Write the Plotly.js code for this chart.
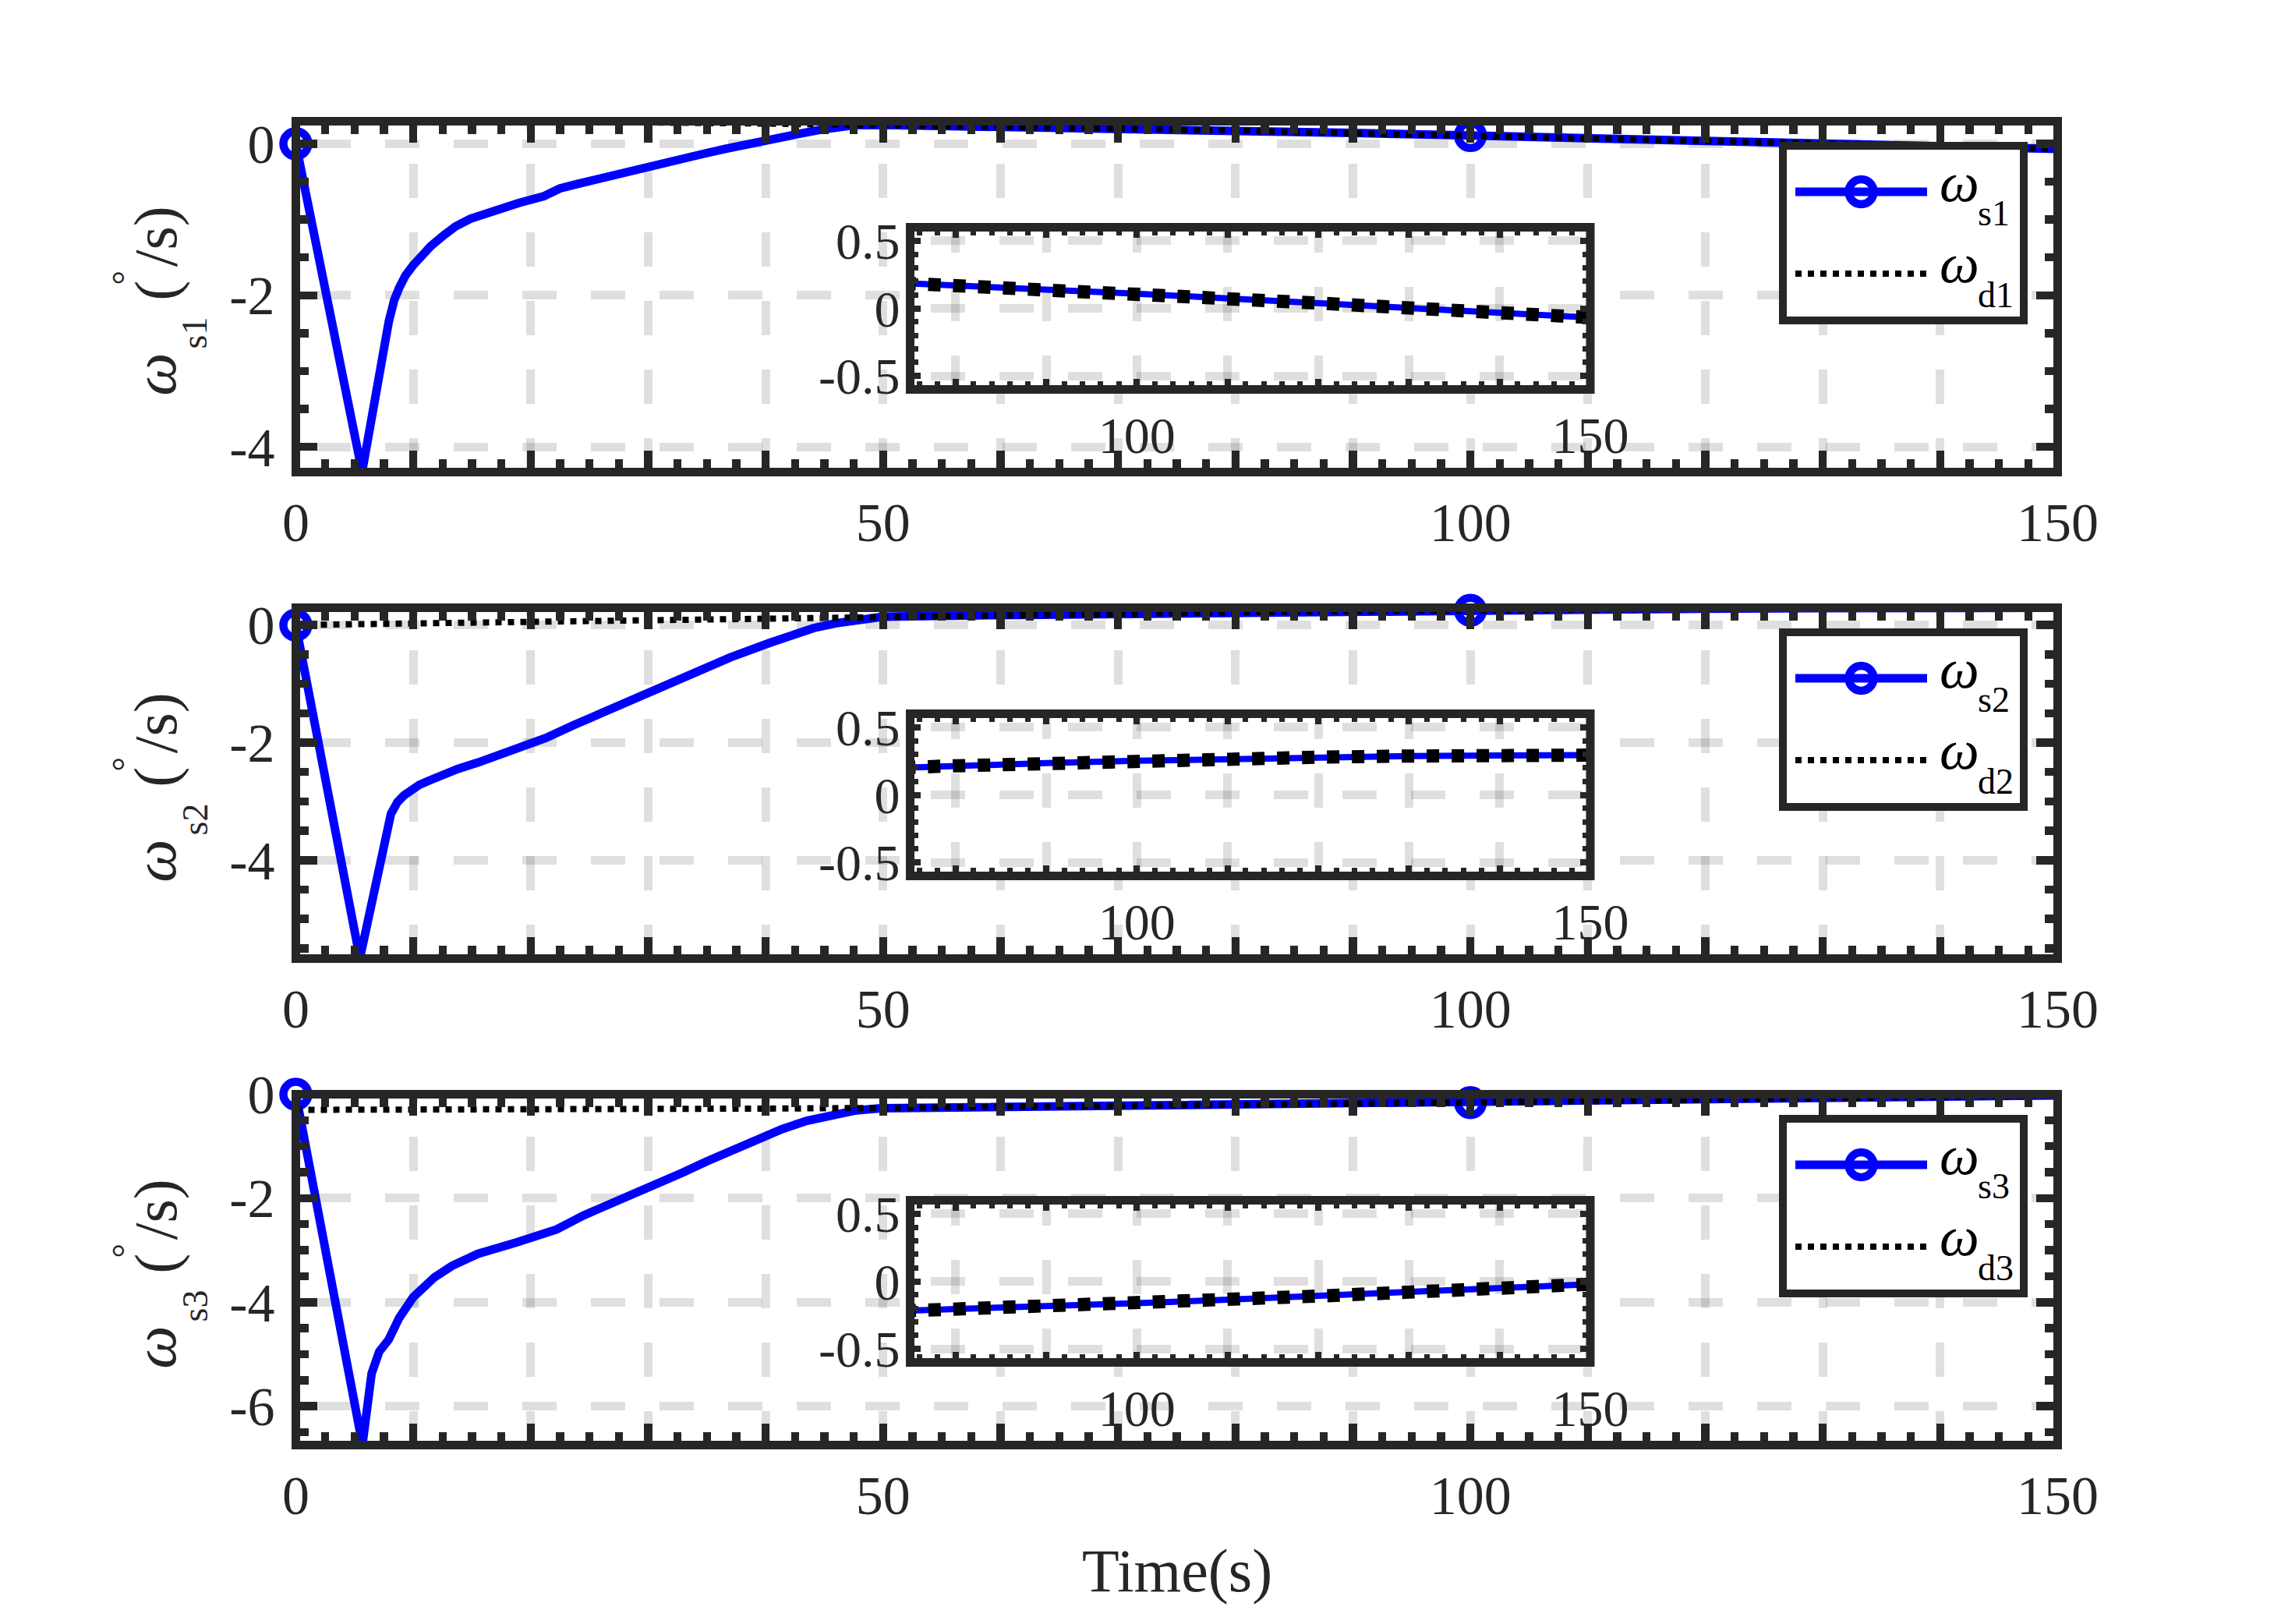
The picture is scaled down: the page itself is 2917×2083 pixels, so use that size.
<!DOCTYPE html>
<html><head><meta charset="utf-8">
<script src="https://cdn.plot.ly/plotly-3.0.1.min.js"></script>
<style>html,body{margin:0;padding:0;background:#fff}</style>
</head><body>
<div id="chart" style="width:2917px;height:2083px"></div>
<script>
// ---------------- data ----------------
const tS1 = [0, 5.64, 7.92, 8.1, 8.38, 8.8, 9.33, 10.0, 10.67, 11.5, 12.57, 13.6, 14.86, 16.0, 17.14, 19.0, 21.14, 22.48, 24.0, 26.29, 28.0, 30.1, 32.0, 34.5, 36.5, 38.5, 40.5, 42.5, 44.5, 46.0, 47.5, 50, 60, 70, 80, 90, 100, 110, 120, 130, 140, 150];
const wS1 = [0, -4.33, -2.34, -2.22, -2.06, -1.90, -1.74, -1.60, -1.47, -1.35, -1.21, -1.09, -0.99, -0.93, -0.87, -0.78, -0.69, -0.59, -0.53, -0.44, -0.38, -0.30, -0.23, -0.14, -0.07, 0.00, 0.06, 0.12, 0.18, 0.22, 0.245, 0.248, 0.226, 0.200, 0.172, 0.142, 0.108, 0.074, 0.039, 0.003, -0.034, -0.068];

const tS2 = [0, 5.45, 8.1, 8.4, 8.66, 9.2, 9.77, 10.5, 11.3, 12.5, 13.75, 15.5, 17.1, 19.3, 21.3, 23.7, 26.0, 28.1, 31.4, 34.2, 37.0, 40.4, 42.5, 44.1, 46.0, 48.0, 50.0, 60, 70, 80, 90, 100, 110, 120, 130, 140, 150];
const wS2 = [0, -5.67, -3.21, -3.10, -3.01, -2.90, -2.81, -2.72, -2.65, -2.55, -2.45, -2.34, -2.23, -2.08, -1.92, -1.70, -1.50, -1.30, -1.02, -0.79, -0.55, -0.30, -0.16, -0.05, 0.03, 0.10, 0.142, 0.169, 0.193, 0.215, 0.235, 0.252, 0.267, 0.279, 0.287, 0.292, 0.294];

const tS3 = [0, 5.67, 6.45, 7.1, 7.9, 8.8, 10.0, 11.8, 13.3, 15.5, 18.8, 20.3, 22.2, 24.5, 26.5, 28.7, 30.8, 32.9, 35.0, 37.1, 39.2, 41.4, 43.5, 45.6, 47.7, 49.8, 60, 70, 80, 90, 100, 110, 120, 130, 140, 150];
const wS3 = [0, -6.74, -5.37, -4.95, -4.72, -4.30, -3.90, -3.52, -3.30, -3.07, -2.85, -2.74, -2.60, -2.33, -2.14, -1.94, -1.72, -1.51, -1.29, -1.08, -0.87, -0.67, -0.51, -0.39, -0.31, -0.27, -0.248, -0.229, -0.209, -0.186, -0.162, -0.136, -0.109, -0.080, -0.051, -0.021];

const tD = [0, 10, 20, 30, 40, 50, 60, 70, 80, 90, 100, 110, 120, 130, 140, 150];
const wD1 = [0.297, 0.295, 0.290, 0.280, 0.266, 0.248, 0.226, 0.200, 0.172, 0.142, 0.108, 0.074, 0.039, 0.003, -0.034, -0.068];
const wD2 = [0.0, 0.030, 0.060, 0.089, 0.117, 0.144, 0.169, 0.193, 0.215, 0.235, 0.252, 0.267, 0.279, 0.287, 0.292, 0.294];
const wD3 = [-0.300, -0.299, -0.294, -0.287, -0.276, -0.263, -0.248, -0.229, -0.209, -0.186, -0.162, -0.136, -0.109, -0.080, -0.051, -0.021];

const markerTimes = [0, 100];

const mainXTickVals = [0, 10, 20, 30, 40, 50, 60, 70, 80, 90, 100, 110, 120, 130, 140, 150];
const mainXTickText = ['0', '', '', '', '', '50', '', '', '', '', '100', '', '', '', '', '150'];
const insetXTickVals = [80, 90, 100, 110, 120, 130, 140, 150];
const insetXTickText = ['', '', '100', '', '', '', '', '150'];
const yTickVals1 = [-4, -2, 0];       const yTickText1 = ['-4', '-2', '0'];
const yTickVals2 = [-4, -2, 0];       const yTickText2 = ['-4', '-2', '0'];
const yTickVals3 = [-6, -4, -2, 0];   const yTickText3 = ['-6', '-4', '-2', '0'];
const insetYTickVals = [-0.5, 0, 0.5]; const insetYTickText = ['-0.5', '0', '0.5'];

const sNames = ['s1', 's2', 's3'];
const dNames = ['d1', 'd2', 'd3'];
const xLabel = 'Time(s)';

// ---------------- layout helpers ----------------
const W = 2917, H = 2083;
const X = v => v / W;
const Y = v => 1 - v / H;
const AX = '#262626';
const FONT = 'Liberation Serif';
const GRID = 'rgba(38,38,38,0.15)';
const BLUE = '#0000ff';

const tS = [tS1, tS2, tS3], wS = [wS1, wS2, wS3], wD = [wD1, wD2, wD3];
const yTV = [yTickVals1, yTickVals2, yTickVals3], yTT = [yTickText1, yTickText2, yTickText3];
const yRanges = [[-4.332, 0.297], [-5.674, 0.294], [-6.747, 0]];

const mainL = 379.5, mainR = 2639.5, subH = 450;
const subTop = [155.5, 779.5, 1403.5];
const insL = 1167.5, insR = 2040, insH = 208;
const insTop = [291.5, 915.5, 1539.5];
const dyOff = [0, 624, 1248];

const data = [];
const layout = {
  width: W, height: H,
  margin: {l: 0, r: 0, t: 0, b: 0},
  paper_bgcolor: '#ffffff', plot_bgcolor: '#ffffff',
  showlegend: false,
  shapes: [], annotations: []
};

function tickCommon(size) {
  return {
    ticks: 'inside', tickcolor: AX, mirror: 'allticks',
    showline: false, linewidth: 0, zeroline: false,
    tickfont: {family: FONT, size: size, color: AX},
    fixedrange: true
  };
}

for (let k = 0; k < 3; k++) {
  const mxId = k === 0 ? 'x' : 'x' + (k + 1);
  const myId = k === 0 ? 'y' : 'y' + (k + 1);
  const ixId = 'x' + (k + 4), iyId = 'y' + (k + 4);
  const mxKey = k === 0 ? 'xaxis' : 'xaxis' + (k + 1);
  const myKey = k === 0 ? 'yaxis' : 'yaxis' + (k + 1);
  const ixKey = 'xaxis' + (k + 4), iyKey = 'yaxis' + (k + 4);
  const top = subTop[k], itop = insTop[k], dy = dyOff[k];

  // main traces
  data.push({
    x: tS[k], y: wS[k], xaxis: mxId, yaxis: myId, type: 'scatter',
    mode: 'lines+markers', name: 'ω' + sNames[k],
    line: {color: BLUE, width: 11},
    marker: {symbol: 'circle-open', size: 32, color: BLUE, line: {width: 10.5, color: BLUE},
             opacity: tS[k].map(t => markerTimes.includes(t) ? 1 : 0)},
    cliponaxis: false, hoverinfo: 'skip'
  });
  data.push({
    x: tD, y: wD[k], xaxis: mxId, yaxis: myId, type: 'scatter',
    mode: 'lines', name: 'ω' + dNames[k],
    line: {color: '#000000', width: 8, dash: '8px,8px'}, hoverinfo: 'skip'
  });
  // inset traces
  data.push({
    x: tS[k], y: wS[k], xaxis: ixId, yaxis: iyId, type: 'scatter',
    mode: 'lines', line: {color: BLUE, width: 8}, hoverinfo: 'skip'
  });
  data.push({
    x: tD, y: wD[k], xaxis: ixId, yaxis: iyId, type: 'scatter',
    mode: 'lines', line: {color: '#000000', width: 17, dash: '16px,16px'}, hoverinfo: 'skip'
  });

  // main axes
  layout[mxKey] = Object.assign(tickCommon(70), {
    domain: [X(mainL), X(mainR)], range: [0, 150], anchor: myId,
    tickmode: 'array', tickvals: mainXTickVals, ticktext: mainXTickText,
    ticklen: 27.5, tickwidth: 10.5, ticklabelstandoff: 17,
    showgrid: true, gridcolor: GRID, gridwidth: 11, griddash: '10px,44px,34px,0px',
    minor: {ticks: 'inside', tickmode: 'linear', tick0: 0, dtick: 2.5, ticklen: 16.5, tickwidth: 10.5, tickcolor: AX, showgrid: false}
  });
  layout[myKey] = Object.assign(tickCommon(70), {
    domain: [Y(top + subH), Y(top)], range: yRanges[k], anchor: mxId,
    tickmode: 'array', tickvals: yTV[k], ticktext: yTT[k],
    ticklen: 27.5, tickwidth: 10.5, ticklabelstandoff: 26,
    showgrid: true, gridcolor: GRID, gridwidth: 11, griddash: '0px,26px,44px,18px',
    minor: {ticks: 'inside', tickmode: 'linear', tick0: 0, dtick: 0.5, ticklen: 16.5, tickwidth: 10.5, tickcolor: AX, showgrid: false}
  });
  // inset axes
  layout[ixKey] = Object.assign(tickCommon(66), {
    domain: [X(insL), X(insR)], range: [75, 150], anchor: iyId,
    tickmode: 'array', tickvals: insetXTickVals, ticktext: insetXTickText,
    ticklen: 13.5, tickwidth: 8, ticklabelstandoff: 14,
    showgrid: true, gridcolor: GRID, gridwidth: 11, griddash: '32px,44px,12px,0px',
    minor: {ticks: 'inside', tickmode: 'linear', tick0: 0, dtick: 2, ticklen: 10.5, tickwidth: 7, tickcolor: AX, showgrid: false}
  });
  layout[iyKey] = Object.assign(tickCommon(66), {
    domain: [Y(itop + insH), Y(itop)], range: [-0.6, 0.6], anchor: ixId,
    tickmode: 'array', tickvals: insetYTickVals, ticktext: insetYTickText,
    ticklen: 13.5, tickwidth: 8, ticklabelstandoff: 12,
    showgrid: true, gridcolor: GRID, gridwidth: 11, griddash: '0px,26px,44px,18px',
    minor: {ticks: 'inside', tickmode: 'linear', tick0: 0, dtick: 0.1, ticklen: 10.5, tickwidth: 7, tickcolor: AX, showgrid: false}
  });

  // inset opaque background (hides main grid)
  layout.shapes.push({type: 'rect', xref: ixId, yref: iyId, x0: 75, x1: 150, y0: -0.6, y1: 0.6,
    fillcolor: '#ffffff', line: {width: 0}, layer: 'below'});
  // frames
  layout.shapes.push({type: 'rect', xref: 'paper', yref: 'paper', x0: X(mainL), x1: X(mainR),
    y0: Y(top + subH), y1: Y(top), line: {color: AX, width: 11}, fillcolor: 'rgba(0,0,0,0)', layer: 'above'});
  layout.shapes.push({type: 'rect', xref: 'paper', yref: 'paper', x0: X(insL), x1: X(insR),
    y0: Y(itop + insH), y1: Y(itop), line: {color: AX, width: 11}, fillcolor: 'rgba(0,0,0,0)', layer: 'above'});

  // legend box
  layout.shapes.push({type: 'rect', xref: 'paper', yref: 'paper', x0: X(2287), x1: X(2596),
    y0: Y(411 + dy), y1: Y(187 + dy), line: {color: AX, width: 10}, fillcolor: '#ffffff', layer: 'above'});
  layout.shapes.push({type: 'line', xref: 'paper', yref: 'paper', x0: X(2303), x1: X(2472),
    y0: Y(246 + dy), y1: Y(246 + dy), line: {color: BLUE, width: 11}, layer: 'above'});
  layout.shapes.push({type: 'circle', xref: 'paper', yref: 'paper', x0: X(2387.5 - 16), x1: X(2387.5 + 16),
    y0: Y(246 + 16 + dy), y1: Y(246 - 16 + dy), line: {color: BLUE, width: 10.5}, fillcolor: 'rgba(0,0,0,0)', layer: 'above'});
  layout.shapes.push({type: 'line', xref: 'paper', yref: 'paper', x0: X(2303), x1: X(2472),
    y0: Y(351 + dy), y1: Y(351 + dy), line: {color: '#000000', width: 8, dash: '8px,8px'}, layer: 'above'});

  const ann = (x, y, text, size, extra) => Object.assign({
    xref: 'paper', yref: 'paper', x: X(x), y: Y(y), text: text, showarrow: false,
    font: {family: FONT, size: size, color: '#000000'}, borderpad: 0
  }, extra || {});
  // legend texts
  layout.annotations.push(ann(2487, 258 - 0.3375 * 72 + dy, '<i>ω</i>', 72, {xanchor: 'left', yanchor: 'middle'}));
  layout.annotations.push(ann(2536, 289 - 0.3375 * 46 + dy, sNames[k], 46, {xanchor: 'left', yanchor: 'middle'}));
  layout.annotations.push(ann(2487, 362 - 0.3375 * 72 + dy, '<i>ω</i>', 72, {xanchor: 'left', yanchor: 'middle'}));
  layout.annotations.push(ann(2536, 394 - 0.3375 * 46 + dy, dNames[k], 46, {xanchor: 'left', yanchor: 'middle'}));

  // y label pieces (rotated)
  const rot = {xanchor: 'center', yanchor: 'middle', textangle: -90};
  const lab = (x, y, text, size) => { const a = ann(x, y + dy, text, size, rot); a.font.color = AX; return a; };
  layout.annotations.push(lab(197.7, 480, '<i>ω</i>', 78));
  layout.annotations.push(lab(249.5, 427, sNames[k], 46));
  layout.annotations.push(lab(199.7, 373, '(', 78));
  layout.annotations.push(lab(160, 356.5, '°', 46));
  layout.annotations.push(lab(199.7, 303.5, '/s)', 78));
}

layout.annotations.push({xref: 'paper', yref: 'paper', x: X(1509.5), y: Y(2014), text: xLabel, showarrow: false,
  font: {family: FONT, size: 78, color: AX}, xanchor: 'center', yanchor: 'middle', borderpad: 0});

Plotly.newPlot('chart', data, layout, {staticPlot: true, displayModeBar: false});
</script>
</body></html>
